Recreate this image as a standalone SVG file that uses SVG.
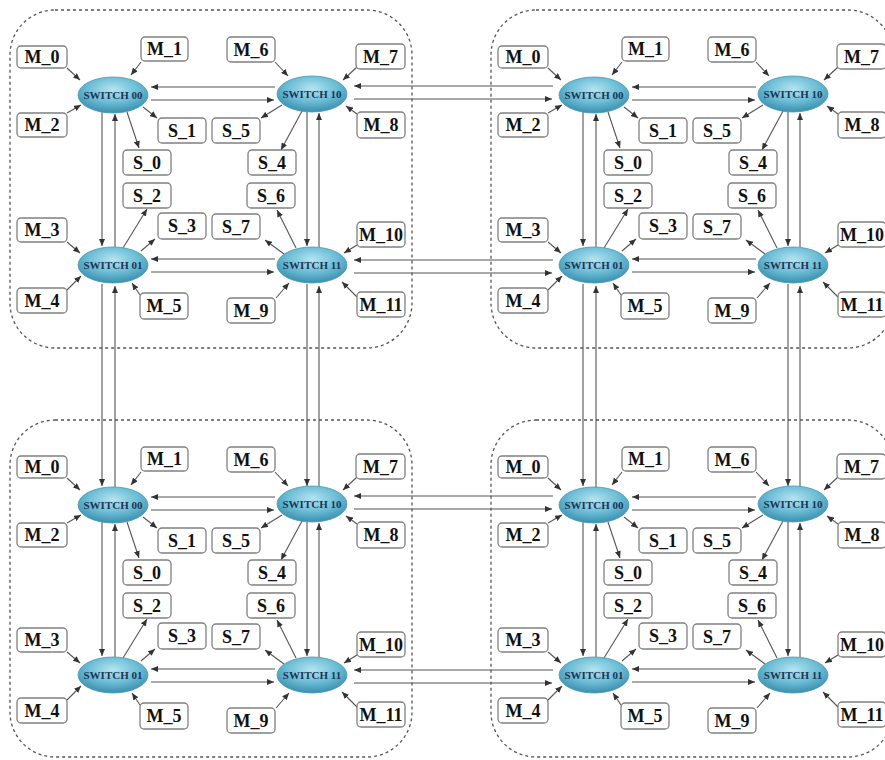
<svg xmlns="http://www.w3.org/2000/svg" width="885" height="760" viewBox="0 0 885 760">
<defs>
<style>
.cl{fill:none;stroke:#555;stroke-width:1.3;stroke-dasharray:3 3}
.bx{fill:#fff;stroke:#808080;stroke-width:1.3}
.bt{font-family:"Liberation Serif","Times New Roman",serif;font-weight:bold;font-size:18px;fill:#111;text-anchor:middle;dominant-baseline:central}
.sw{fill:url(#swg);stroke:#4d9ab3;stroke-width:0.8}
.st{font-family:"Liberation Serif","Times New Roman",serif;font-weight:bold;font-size:11px;fill:#1b3556;text-anchor:middle;dominant-baseline:central}
.cn line{stroke:#555;stroke-width:1.1;marker-end:url(#ah)}
</style>
<radialGradient id="swg" cx="50%" cy="35%" r="65%">
<stop offset="0" stop-color="#b4e4ef"/>
<stop offset="0.55" stop-color="#6cbdd6"/>
<stop offset="1" stop-color="#3a8fae"/>
</radialGradient>
<marker id="ah" markerWidth="8" markerHeight="6" refX="7" refY="3" orient="auto" markerUnits="userSpaceOnUse">
<path d="M0,0 L7,3 L0,6 z" fill="#333"/>
</marker>
</defs>
<rect width="885" height="760" fill="#fff"/>
<g id="clusters">
<rect class="cl" x="10" y="10" width="402" height="338" rx="45" ry="45"/>
<rect class="cl" x="491" y="10" width="402" height="338" rx="45" ry="45"/>
<rect class="cl" x="10" y="420" width="402" height="337" rx="45" ry="45"/>
<rect class="cl" x="491" y="420" width="402" height="337" rx="45" ry="45"/>
</g>
<g id="connectors" class="cn">
<g id="conn_tl">
<line x1="67" y1="68" x2="80" y2="80"/>
<line x1="141" y1="62" x2="131" y2="75"/>
<line x1="67" y1="113" x2="81" y2="105"/>
<line x1="143" y1="107" x2="157" y2="118"/>
<line x1="127" y1="112" x2="139" y2="148"/>
<line x1="275" y1="87" x2="151" y2="87"/>
<line x1="151" y1="100" x2="274" y2="100"/>
<line x1="102" y1="112" x2="102" y2="246"/>
<line x1="115" y1="247" x2="115" y2="114"/>
<line x1="275" y1="62" x2="288" y2="76"/>
<line x1="357" y1="67" x2="343" y2="80"/>
<line x1="357" y1="114" x2="346" y2="106"/>
<line x1="282" y1="105" x2="261" y2="118"/>
<line x1="302" y1="111" x2="281" y2="150"/>
<line x1="307" y1="112" x2="307" y2="246"/>
<line x1="319" y1="247" x2="319" y2="113"/>
<line x1="67" y1="242" x2="80" y2="253"/>
<line x1="67" y1="290" x2="81" y2="276"/>
<line x1="140" y1="295" x2="132" y2="283"/>
<line x1="123" y1="248" x2="147" y2="209"/>
<line x1="141" y1="251" x2="155" y2="239"/>
<line x1="275" y1="259" x2="151" y2="259"/>
<line x1="151" y1="272" x2="274" y2="272"/>
<line x1="296" y1="248" x2="277" y2="210"/>
<line x1="284" y1="254" x2="265" y2="240"/>
<line x1="357" y1="245" x2="344" y2="253"/>
<line x1="357" y1="297" x2="342" y2="282"/>
<line x1="276" y1="298" x2="289" y2="283"/>
</g>
<g id="conn_tr" transform="translate(481,0)">
<line x1="67" y1="68" x2="80" y2="80"/>
<line x1="141" y1="62" x2="131" y2="75"/>
<line x1="67" y1="113" x2="81" y2="105"/>
<line x1="143" y1="107" x2="157" y2="118"/>
<line x1="127" y1="112" x2="139" y2="148"/>
<line x1="275" y1="87" x2="151" y2="87"/>
<line x1="151" y1="100" x2="274" y2="100"/>
<line x1="102" y1="112" x2="102" y2="246"/>
<line x1="115" y1="247" x2="115" y2="114"/>
<line x1="275" y1="62" x2="288" y2="76"/>
<line x1="357" y1="67" x2="343" y2="80"/>
<line x1="357" y1="114" x2="346" y2="106"/>
<line x1="282" y1="105" x2="261" y2="118"/>
<line x1="302" y1="111" x2="281" y2="150"/>
<line x1="307" y1="112" x2="307" y2="246"/>
<line x1="319" y1="247" x2="319" y2="113"/>
<line x1="67" y1="242" x2="80" y2="253"/>
<line x1="67" y1="290" x2="81" y2="276"/>
<line x1="140" y1="295" x2="132" y2="283"/>
<line x1="123" y1="248" x2="147" y2="209"/>
<line x1="141" y1="251" x2="155" y2="239"/>
<line x1="275" y1="259" x2="151" y2="259"/>
<line x1="151" y1="272" x2="274" y2="272"/>
<line x1="296" y1="248" x2="277" y2="210"/>
<line x1="284" y1="254" x2="265" y2="240"/>
<line x1="357" y1="245" x2="344" y2="253"/>
<line x1="357" y1="297" x2="342" y2="282"/>
<line x1="276" y1="298" x2="289" y2="283"/>
</g>
<g id="conn_bl" transform="translate(0,410)">
<line x1="67" y1="68" x2="80" y2="80"/>
<line x1="141" y1="62" x2="131" y2="75"/>
<line x1="67" y1="113" x2="81" y2="105"/>
<line x1="143" y1="107" x2="157" y2="118"/>
<line x1="127" y1="112" x2="139" y2="148"/>
<line x1="275" y1="87" x2="151" y2="87"/>
<line x1="151" y1="100" x2="274" y2="100"/>
<line x1="102" y1="112" x2="102" y2="246"/>
<line x1="115" y1="247" x2="115" y2="114"/>
<line x1="275" y1="62" x2="288" y2="76"/>
<line x1="357" y1="67" x2="343" y2="80"/>
<line x1="357" y1="114" x2="346" y2="106"/>
<line x1="282" y1="105" x2="261" y2="118"/>
<line x1="302" y1="111" x2="281" y2="150"/>
<line x1="307" y1="112" x2="307" y2="246"/>
<line x1="319" y1="247" x2="319" y2="113"/>
<line x1="67" y1="242" x2="80" y2="253"/>
<line x1="67" y1="290" x2="81" y2="276"/>
<line x1="140" y1="295" x2="132" y2="283"/>
<line x1="123" y1="248" x2="147" y2="209"/>
<line x1="141" y1="251" x2="155" y2="239"/>
<line x1="275" y1="259" x2="151" y2="259"/>
<line x1="151" y1="272" x2="274" y2="272"/>
<line x1="296" y1="248" x2="277" y2="210"/>
<line x1="284" y1="254" x2="265" y2="240"/>
<line x1="357" y1="245" x2="344" y2="253"/>
<line x1="357" y1="297" x2="342" y2="282"/>
<line x1="276" y1="298" x2="289" y2="283"/>
</g>
<g id="conn_br" transform="translate(481,410)">
<line x1="67" y1="68" x2="80" y2="80"/>
<line x1="141" y1="62" x2="131" y2="75"/>
<line x1="67" y1="113" x2="81" y2="105"/>
<line x1="143" y1="107" x2="157" y2="118"/>
<line x1="127" y1="112" x2="139" y2="148"/>
<line x1="275" y1="87" x2="151" y2="87"/>
<line x1="151" y1="100" x2="274" y2="100"/>
<line x1="102" y1="112" x2="102" y2="246"/>
<line x1="115" y1="247" x2="115" y2="114"/>
<line x1="275" y1="62" x2="288" y2="76"/>
<line x1="357" y1="67" x2="343" y2="80"/>
<line x1="357" y1="114" x2="346" y2="106"/>
<line x1="282" y1="105" x2="261" y2="118"/>
<line x1="302" y1="111" x2="281" y2="150"/>
<line x1="307" y1="112" x2="307" y2="246"/>
<line x1="319" y1="247" x2="319" y2="113"/>
<line x1="67" y1="242" x2="80" y2="253"/>
<line x1="67" y1="290" x2="81" y2="276"/>
<line x1="140" y1="295" x2="132" y2="283"/>
<line x1="123" y1="248" x2="147" y2="209"/>
<line x1="141" y1="251" x2="155" y2="239"/>
<line x1="275" y1="259" x2="151" y2="259"/>
<line x1="151" y1="272" x2="274" y2="272"/>
<line x1="296" y1="248" x2="277" y2="210"/>
<line x1="284" y1="254" x2="265" y2="240"/>
<line x1="357" y1="245" x2="344" y2="253"/>
<line x1="357" y1="297" x2="342" y2="282"/>
<line x1="276" y1="298" x2="289" y2="283"/>
</g>
<g id="conn_inter">
<line x1="553" y1="86" x2="354" y2="86"/>
<line x1="354" y1="99" x2="552" y2="99"/>
<line x1="553" y1="260" x2="354" y2="260"/>
<line x1="354" y1="273" x2="552" y2="273"/>
<line x1="553" y1="496" x2="354" y2="496"/>
<line x1="354" y1="509" x2="552" y2="509"/>
<line x1="553" y1="670" x2="354" y2="670"/>
<line x1="354" y1="683" x2="552" y2="683"/>
<line x1="102" y1="284" x2="102" y2="486"/>
<line x1="115" y1="488" x2="115" y2="286"/>
<line x1="307" y1="284" x2="307" y2="486"/>
<line x1="319" y1="488" x2="319" y2="286"/>
<line x1="583" y1="284" x2="583" y2="486"/>
<line x1="596" y1="488" x2="596" y2="286"/>
<line x1="788" y1="284" x2="788" y2="486"/>
<line x1="800" y1="488" x2="800" y2="286"/>
</g>
</g>
<g id="nodes">
<g id="cluster_tl">
<g id="tl_SW00"><ellipse class="sw" cx="113" cy="95" rx="35" ry="18"/><text class="st" x="113" y="95">SWITCH 00</text></g>
<g id="tl_SW10"><ellipse class="sw" cx="312" cy="94" rx="35" ry="18"/><text class="st" x="312" y="94">SWITCH 10</text></g>
<g id="tl_SW01"><ellipse class="sw" cx="113" cy="265" rx="35" ry="18"/><text class="st" x="113" y="265">SWITCH 01</text></g>
<g id="tl_SW11"><ellipse class="sw" cx="312" cy="265" rx="35" ry="18"/><text class="st" x="312" y="265">SWITCH 11</text></g>
<g id="tl_M_0"><rect class="bx" x="17" y="46" width="50" height="22" rx="4"/><text class="bt" x="42" y="57">M_0</text></g>
<g id="tl_M_1"><rect class="bx" x="141" y="37" width="47" height="24" rx="4"/><text class="bt" x="164.5" y="49">M_1</text></g>
<g id="tl_M_2"><rect class="bx" x="17" y="113" width="50" height="24" rx="4"/><text class="bt" x="42" y="125">M_2</text></g>
<g id="tl_S_1"><rect class="bx" x="158" y="118" width="48" height="25" rx="4"/><text class="bt" x="182" y="130.5">S_1</text></g>
<g id="tl_S_0"><rect class="bx" x="123" y="150" width="48" height="25" rx="4"/><text class="bt" x="147" y="162.5">S_0</text></g>
<g id="tl_M_6"><rect class="bx" x="227" y="37" width="48" height="25" rx="4"/><text class="bt" x="251" y="49.5">M_6</text></g>
<g id="tl_M_7"><rect class="bx" x="356" y="44" width="49" height="25" rx="4"/><text class="bt" x="380.5" y="56.5">M_7</text></g>
<g id="tl_M_8"><rect class="bx" x="357" y="112" width="48" height="26" rx="4"/><text class="bt" x="381" y="125">M_8</text></g>
<g id="tl_S_5"><rect class="bx" x="212" y="118" width="48" height="25" rx="4"/><text class="bt" x="236" y="130.5">S_5</text></g>
<g id="tl_S_4"><rect class="bx" x="248" y="150" width="48" height="25" rx="4"/><text class="bt" x="272" y="162.5">S_4</text></g>
<g id="tl_S_2"><rect class="bx" x="123" y="183" width="48" height="25" rx="4"/><text class="bt" x="147" y="195.5">S_2</text></g>
<g id="tl_S_3"><rect class="bx" x="158" y="213" width="48" height="26" rx="4"/><text class="bt" x="182" y="226">S_3</text></g>
<g id="tl_M_3"><rect class="bx" x="17" y="218" width="50" height="24" rx="4"/><text class="bt" x="42" y="230">M_3</text></g>
<g id="tl_M_4"><rect class="bx" x="17" y="288" width="50" height="25" rx="4"/><text class="bt" x="42" y="300.5">M_4</text></g>
<g id="tl_M_5"><rect class="bx" x="140" y="293" width="48" height="26" rx="4"/><text class="bt" x="164" y="306">M_5</text></g>
<g id="tl_S_6"><rect class="bx" x="247" y="183" width="48" height="25" rx="4"/><text class="bt" x="271" y="195.5">S_6</text></g>
<g id="tl_S_7"><rect class="bx" x="212" y="214" width="48" height="25" rx="4"/><text class="bt" x="236" y="226.5">S_7</text></g>
<g id="tl_M_10"><rect class="bx" x="357" y="222" width="48" height="25" rx="4"/><text class="bt" x="381" y="234.5">M_10</text></g>
<g id="tl_M_11"><rect class="bx" x="357" y="292" width="48" height="25" rx="4"/><text class="bt" x="381" y="304.5">M_11</text></g>
<g id="tl_M_9"><rect class="bx" x="227" y="298" width="48" height="25" rx="4"/><text class="bt" x="251" y="310.5">M_9</text></g>
</g>
<g id="cluster_tr" transform="translate(481,0)">
<g id="tr_SW00"><ellipse class="sw" cx="113" cy="95" rx="35" ry="18"/><text class="st" x="113" y="95">SWITCH 00</text></g>
<g id="tr_SW10"><ellipse class="sw" cx="312" cy="94" rx="35" ry="18"/><text class="st" x="312" y="94">SWITCH 10</text></g>
<g id="tr_SW01"><ellipse class="sw" cx="113" cy="265" rx="35" ry="18"/><text class="st" x="113" y="265">SWITCH 01</text></g>
<g id="tr_SW11"><ellipse class="sw" cx="312" cy="265" rx="35" ry="18"/><text class="st" x="312" y="265">SWITCH 11</text></g>
<g id="tr_M_0"><rect class="bx" x="17" y="46" width="50" height="22" rx="4"/><text class="bt" x="42" y="57">M_0</text></g>
<g id="tr_M_1"><rect class="bx" x="141" y="37" width="47" height="24" rx="4"/><text class="bt" x="164.5" y="49">M_1</text></g>
<g id="tr_M_2"><rect class="bx" x="17" y="113" width="50" height="24" rx="4"/><text class="bt" x="42" y="125">M_2</text></g>
<g id="tr_S_1"><rect class="bx" x="158" y="118" width="48" height="25" rx="4"/><text class="bt" x="182" y="130.5">S_1</text></g>
<g id="tr_S_0"><rect class="bx" x="123" y="150" width="48" height="25" rx="4"/><text class="bt" x="147" y="162.5">S_0</text></g>
<g id="tr_M_6"><rect class="bx" x="227" y="37" width="48" height="25" rx="4"/><text class="bt" x="251" y="49.5">M_6</text></g>
<g id="tr_M_7"><rect class="bx" x="356" y="44" width="49" height="25" rx="4"/><text class="bt" x="380.5" y="56.5">M_7</text></g>
<g id="tr_M_8"><rect class="bx" x="357" y="112" width="48" height="26" rx="4"/><text class="bt" x="381" y="125">M_8</text></g>
<g id="tr_S_5"><rect class="bx" x="212" y="118" width="48" height="25" rx="4"/><text class="bt" x="236" y="130.5">S_5</text></g>
<g id="tr_S_4"><rect class="bx" x="248" y="150" width="48" height="25" rx="4"/><text class="bt" x="272" y="162.5">S_4</text></g>
<g id="tr_S_2"><rect class="bx" x="123" y="183" width="48" height="25" rx="4"/><text class="bt" x="147" y="195.5">S_2</text></g>
<g id="tr_S_3"><rect class="bx" x="158" y="213" width="48" height="26" rx="4"/><text class="bt" x="182" y="226">S_3</text></g>
<g id="tr_M_3"><rect class="bx" x="17" y="218" width="50" height="24" rx="4"/><text class="bt" x="42" y="230">M_3</text></g>
<g id="tr_M_4"><rect class="bx" x="17" y="288" width="50" height="25" rx="4"/><text class="bt" x="42" y="300.5">M_4</text></g>
<g id="tr_M_5"><rect class="bx" x="140" y="293" width="48" height="26" rx="4"/><text class="bt" x="164" y="306">M_5</text></g>
<g id="tr_S_6"><rect class="bx" x="247" y="183" width="48" height="25" rx="4"/><text class="bt" x="271" y="195.5">S_6</text></g>
<g id="tr_S_7"><rect class="bx" x="212" y="214" width="48" height="25" rx="4"/><text class="bt" x="236" y="226.5">S_7</text></g>
<g id="tr_M_10"><rect class="bx" x="357" y="222" width="48" height="25" rx="4"/><text class="bt" x="381" y="234.5">M_10</text></g>
<g id="tr_M_11"><rect class="bx" x="357" y="292" width="48" height="25" rx="4"/><text class="bt" x="381" y="304.5">M_11</text></g>
<g id="tr_M_9"><rect class="bx" x="227" y="298" width="48" height="25" rx="4"/><text class="bt" x="251" y="310.5">M_9</text></g>
</g>
<g id="cluster_bl" transform="translate(0,410)">
<g id="bl_SW00"><ellipse class="sw" cx="113" cy="95" rx="35" ry="18"/><text class="st" x="113" y="95">SWITCH 00</text></g>
<g id="bl_SW10"><ellipse class="sw" cx="312" cy="94" rx="35" ry="18"/><text class="st" x="312" y="94">SWITCH 10</text></g>
<g id="bl_SW01"><ellipse class="sw" cx="113" cy="265" rx="35" ry="18"/><text class="st" x="113" y="265">SWITCH 01</text></g>
<g id="bl_SW11"><ellipse class="sw" cx="312" cy="265" rx="35" ry="18"/><text class="st" x="312" y="265">SWITCH 11</text></g>
<g id="bl_M_0"><rect class="bx" x="17" y="46" width="50" height="22" rx="4"/><text class="bt" x="42" y="57">M_0</text></g>
<g id="bl_M_1"><rect class="bx" x="141" y="37" width="47" height="24" rx="4"/><text class="bt" x="164.5" y="49">M_1</text></g>
<g id="bl_M_2"><rect class="bx" x="17" y="113" width="50" height="24" rx="4"/><text class="bt" x="42" y="125">M_2</text></g>
<g id="bl_S_1"><rect class="bx" x="158" y="118" width="48" height="25" rx="4"/><text class="bt" x="182" y="130.5">S_1</text></g>
<g id="bl_S_0"><rect class="bx" x="123" y="150" width="48" height="25" rx="4"/><text class="bt" x="147" y="162.5">S_0</text></g>
<g id="bl_M_6"><rect class="bx" x="227" y="37" width="48" height="25" rx="4"/><text class="bt" x="251" y="49.5">M_6</text></g>
<g id="bl_M_7"><rect class="bx" x="356" y="44" width="49" height="25" rx="4"/><text class="bt" x="380.5" y="56.5">M_7</text></g>
<g id="bl_M_8"><rect class="bx" x="357" y="112" width="48" height="26" rx="4"/><text class="bt" x="381" y="125">M_8</text></g>
<g id="bl_S_5"><rect class="bx" x="212" y="118" width="48" height="25" rx="4"/><text class="bt" x="236" y="130.5">S_5</text></g>
<g id="bl_S_4"><rect class="bx" x="248" y="150" width="48" height="25" rx="4"/><text class="bt" x="272" y="162.5">S_4</text></g>
<g id="bl_S_2"><rect class="bx" x="123" y="183" width="48" height="25" rx="4"/><text class="bt" x="147" y="195.5">S_2</text></g>
<g id="bl_S_3"><rect class="bx" x="158" y="213" width="48" height="26" rx="4"/><text class="bt" x="182" y="226">S_3</text></g>
<g id="bl_M_3"><rect class="bx" x="17" y="218" width="50" height="24" rx="4"/><text class="bt" x="42" y="230">M_3</text></g>
<g id="bl_M_4"><rect class="bx" x="17" y="288" width="50" height="25" rx="4"/><text class="bt" x="42" y="300.5">M_4</text></g>
<g id="bl_M_5"><rect class="bx" x="140" y="293" width="48" height="26" rx="4"/><text class="bt" x="164" y="306">M_5</text></g>
<g id="bl_S_6"><rect class="bx" x="247" y="183" width="48" height="25" rx="4"/><text class="bt" x="271" y="195.5">S_6</text></g>
<g id="bl_S_7"><rect class="bx" x="212" y="214" width="48" height="25" rx="4"/><text class="bt" x="236" y="226.5">S_7</text></g>
<g id="bl_M_10"><rect class="bx" x="357" y="222" width="48" height="25" rx="4"/><text class="bt" x="381" y="234.5">M_10</text></g>
<g id="bl_M_11"><rect class="bx" x="357" y="292" width="48" height="25" rx="4"/><text class="bt" x="381" y="304.5">M_11</text></g>
<g id="bl_M_9"><rect class="bx" x="227" y="298" width="48" height="25" rx="4"/><text class="bt" x="251" y="310.5">M_9</text></g>
</g>
<g id="cluster_br" transform="translate(481,410)">
<g id="br_SW00"><ellipse class="sw" cx="113" cy="95" rx="35" ry="18"/><text class="st" x="113" y="95">SWITCH 00</text></g>
<g id="br_SW10"><ellipse class="sw" cx="312" cy="94" rx="35" ry="18"/><text class="st" x="312" y="94">SWITCH 10</text></g>
<g id="br_SW01"><ellipse class="sw" cx="113" cy="265" rx="35" ry="18"/><text class="st" x="113" y="265">SWITCH 01</text></g>
<g id="br_SW11"><ellipse class="sw" cx="312" cy="265" rx="35" ry="18"/><text class="st" x="312" y="265">SWITCH 11</text></g>
<g id="br_M_0"><rect class="bx" x="17" y="46" width="50" height="22" rx="4"/><text class="bt" x="42" y="57">M_0</text></g>
<g id="br_M_1"><rect class="bx" x="141" y="37" width="47" height="24" rx="4"/><text class="bt" x="164.5" y="49">M_1</text></g>
<g id="br_M_2"><rect class="bx" x="17" y="113" width="50" height="24" rx="4"/><text class="bt" x="42" y="125">M_2</text></g>
<g id="br_S_1"><rect class="bx" x="158" y="118" width="48" height="25" rx="4"/><text class="bt" x="182" y="130.5">S_1</text></g>
<g id="br_S_0"><rect class="bx" x="123" y="150" width="48" height="25" rx="4"/><text class="bt" x="147" y="162.5">S_0</text></g>
<g id="br_M_6"><rect class="bx" x="227" y="37" width="48" height="25" rx="4"/><text class="bt" x="251" y="49.5">M_6</text></g>
<g id="br_M_7"><rect class="bx" x="356" y="44" width="49" height="25" rx="4"/><text class="bt" x="380.5" y="56.5">M_7</text></g>
<g id="br_M_8"><rect class="bx" x="357" y="112" width="48" height="26" rx="4"/><text class="bt" x="381" y="125">M_8</text></g>
<g id="br_S_5"><rect class="bx" x="212" y="118" width="48" height="25" rx="4"/><text class="bt" x="236" y="130.5">S_5</text></g>
<g id="br_S_4"><rect class="bx" x="248" y="150" width="48" height="25" rx="4"/><text class="bt" x="272" y="162.5">S_4</text></g>
<g id="br_S_2"><rect class="bx" x="123" y="183" width="48" height="25" rx="4"/><text class="bt" x="147" y="195.5">S_2</text></g>
<g id="br_S_3"><rect class="bx" x="158" y="213" width="48" height="26" rx="4"/><text class="bt" x="182" y="226">S_3</text></g>
<g id="br_M_3"><rect class="bx" x="17" y="218" width="50" height="24" rx="4"/><text class="bt" x="42" y="230">M_3</text></g>
<g id="br_M_4"><rect class="bx" x="17" y="288" width="50" height="25" rx="4"/><text class="bt" x="42" y="300.5">M_4</text></g>
<g id="br_M_5"><rect class="bx" x="140" y="293" width="48" height="26" rx="4"/><text class="bt" x="164" y="306">M_5</text></g>
<g id="br_S_6"><rect class="bx" x="247" y="183" width="48" height="25" rx="4"/><text class="bt" x="271" y="195.5">S_6</text></g>
<g id="br_S_7"><rect class="bx" x="212" y="214" width="48" height="25" rx="4"/><text class="bt" x="236" y="226.5">S_7</text></g>
<g id="br_M_10"><rect class="bx" x="357" y="222" width="48" height="25" rx="4"/><text class="bt" x="381" y="234.5">M_10</text></g>
<g id="br_M_11"><rect class="bx" x="357" y="292" width="48" height="25" rx="4"/><text class="bt" x="381" y="304.5">M_11</text></g>
<g id="br_M_9"><rect class="bx" x="227" y="298" width="48" height="25" rx="4"/><text class="bt" x="251" y="310.5">M_9</text></g>
</g>
</g>
</svg>
